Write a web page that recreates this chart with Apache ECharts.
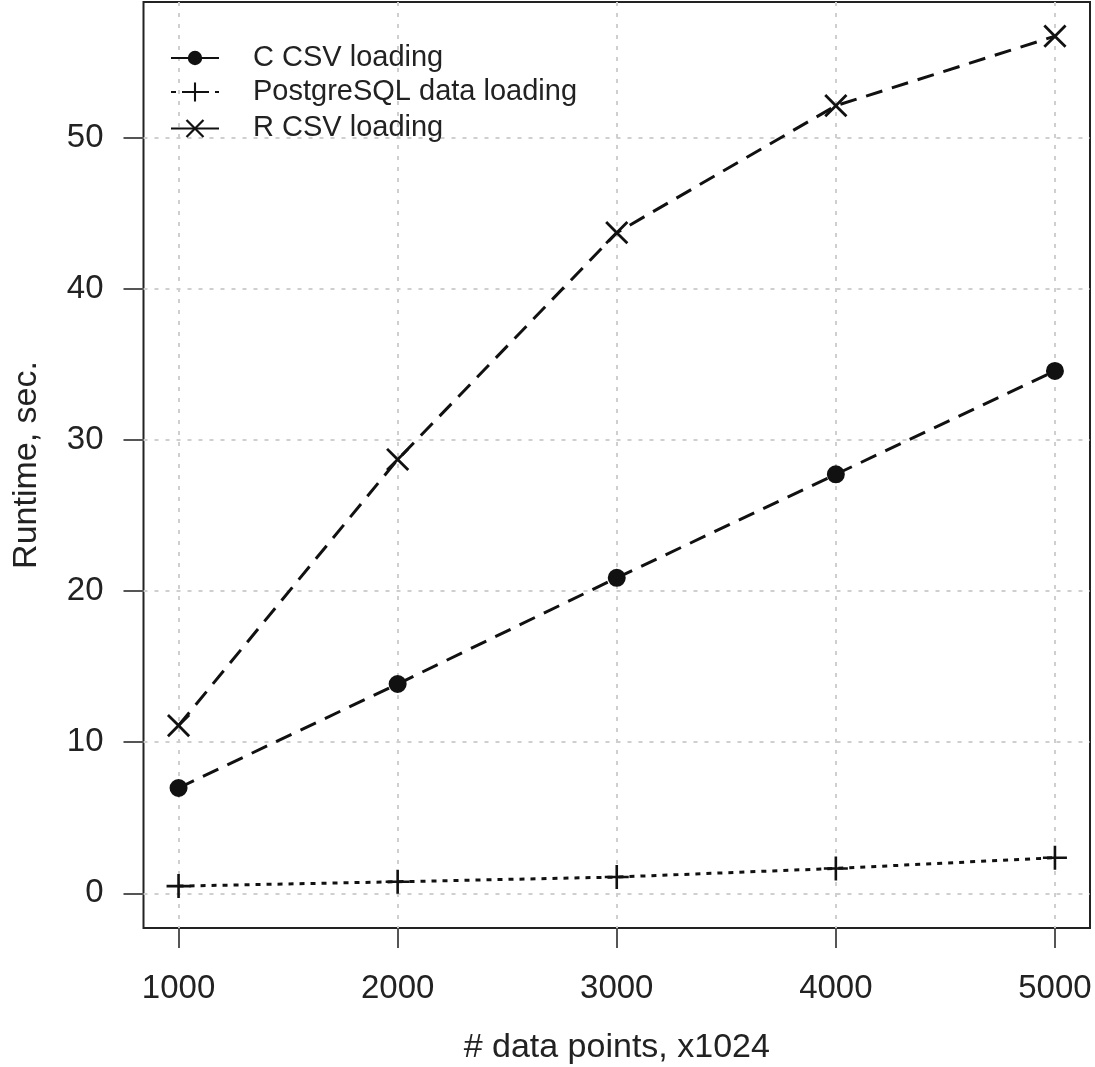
<!DOCTYPE html>
<html>
<head>
<meta charset="utf-8">
<script src="https://cdn.jsdelivr.net/npm/echarts@6/dist/echarts.min.js"></script>
<style>
html,body{margin:0;padding:0;background:#fff;}
#chart{width:1095px;height:1067px;}
</style>
</head>
<body>
<div id="chart"></div>
<script>
const xValues = [1000, 2000, 3000, 4000, 5000];
const cCsv = [6.97, 13.85, 20.87, 27.72, 34.56];
const pgLoad = [0.48, 0.77, 1.08, 1.65, 2.36];
const rCsv = [11.1, 28.7, 43.7, 52.1, 56.7];
const xTicks = [1000, 2000, 3000, 4000, 5000];
const yTicks = [0, 10, 20, 30, 40, 50];
const seriesNames = ['C CSV loading', 'PostgreSQL data loading', 'R CSV loading'];

const FONT = '"Liberation Sans", Arial, Helvetica, sans-serif';
// all symbols share a 30x30 box (tiny corner marks fix the box) so that
// plot markers and legend markers keep the same relative sizes
const box = 'M0,0L0.01,0L0,0.01ZM30,30L29.99,30L30,29.99Z';
const circlePath = 'path://' + box + 'M6,15A9,9 0 1,0 24,15A9,9 0 1,0 6,15Z';
const plusPath = 'path://' + box + 'M13.7,3H16.3V13.7H27V16.3H16.3V27H13.7V16.3H3V13.7H13.7Z';
const crossPath = 'path://M13.6,0H16.4V13.6H30V16.4H16.4V30H13.6V16.4H0V13.6H13.6Z';

function pairs(vals) { return xValues.map((x, i) => [x, vals[i]]); }

const chart = echarts.init(document.getElementById('chart'), null, {renderer: 'canvas'});
chart.setOption({
  backgroundColor: '#fff',
  animation: false,
  grid: {
    left: 143.5, right: 5, top: 2, bottom: 139,
    outerBoundsMode: 'none', containLabel: false,
    show: true, borderColor: '#222', borderWidth: 2, backgroundColor: 'transparent'
  },
  legend: {
    orient: 'vertical', left: 165, top: 38.5,
    itemWidth: 48, itemHeight: 30, itemGap: 5,
    itemStyle: {borderWidth: 0},
    textStyle: {fontFamily: FONT, fontSize: 29, color: '#222', lineHeight: 25, padding: [0, 0, 0, 29]},
    data: [
      {name: seriesNames[0], lineStyle: {type: 'solid'}},
      {name: seriesNames[1]},
      {name: seriesNames[2], lineStyle: {type: 'solid'}}
    ]
  },
  xAxis: {
    type: 'value', min: 840, max: 5160,
    name: '# data points, x1024', nameLocation: 'middle', nameGap: 103,
    nameTextStyle: {fontFamily: FONT, fontSize: 34, color: '#222'},
    axisLine: {show: false, onZero: false},
    axisTick: {show: true, length: 20, inside: false, customValues: xTicks, lineStyle: {color: '#555', width: 2}},
    axisLabel: {customValues: xTicks, formatter: v => String(v), fontFamily: FONT, fontSize: 33, color: '#222', margin: 44},
    splitLine: {show: true, lineStyle: {color: '#cfcfcf', width: 2, type: [4, 7]}}
  },
  yAxis: {
    type: 'value', min: -2.29, max: 58.96,
    name: 'Runtime, sec.', nameLocation: 'middle', nameGap: 100,
    nameTextStyle: {fontFamily: FONT, fontSize: 34, color: '#222'},
    axisLine: {show: false, onZero: false},
    axisTick: {show: true, length: 20, inside: false, customValues: yTicks, lineStyle: {color: '#555', width: 2}},
    axisLabel: {customValues: yTicks, fontFamily: FONT, fontSize: 33, color: '#222', margin: 40},
    splitLine: {show: true, lineStyle: {color: '#cfcfcf', width: 2, type: [4, 7]}}
  },
  series: [
    {
      name: seriesNames[0], type: 'line', data: pairs(cCsv),
      symbol: circlePath, symbolSize: 30,
      itemStyle: {color: '#111', borderWidth: 0},
      lineStyle: {color: '#111', width: 3, type: [17, 10]}
    },
    {
      name: seriesNames[1], type: 'line', data: pairs(pgLoad),
      symbol: plusPath, symbolSize: 30,
      itemStyle: {color: '#111', borderWidth: 0},
      lineStyle: {color: '#111', width: 3, type: [5, 6]}
    },
    {
      name: seriesNames[2], type: 'line', data: pairs(rCsv),
      symbol: crossPath, symbolSize: 30, symbolRotate: 45,
      itemStyle: {color: '#111', borderWidth: 0},
      lineStyle: {color: '#111', width: 3, type: [17, 10]}
    }
  ]
});
</script>
</body>
</html>
